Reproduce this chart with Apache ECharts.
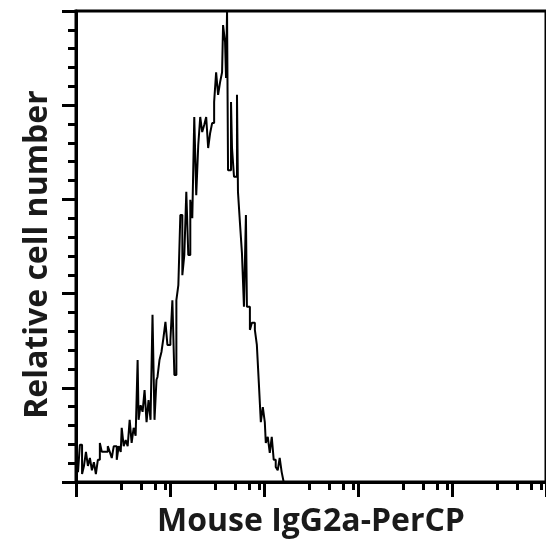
<!DOCTYPE html>
<html>
<head>
<meta charset="utf-8">
<script src="https://cdn.jsdelivr.net/npm/echarts@6/dist/echarts.min.js"></script>
<style>
  html, body { margin: 0; padding: 0; background: #fff; }
  #chart { width: 546px; height: 559px; }
</style>
</head>
<body>
<div id="chart"></div>
<script>
// histogram bins: left edge of each bin (fluorescence intensity) and relative count
const intensity = [
  1.00, 1.05, 1.10, 1.16, 1.215, 1.276, 1.339, 1.406, 1.476, 1.550,
  1.627, 1.708, 1.794, 1.883, 2.026, 2.179, 2.288, 2.402, 2.522, 2.713,
  2.849, 2.991, 3.064, 3.217, 3.378, 3.546, 3.723, 3.908, 4.104, 4.309,
  4.415, 4.524, 4.634, 4.866, 5.109, 5.363, 5.631, 5.912, 6.207, 6.516,
  6.842, 7.183, 7.360, 7.727, 8.112, 8.517, 8.942, 9.388, 10.10, 10.60,
  11.13, 11.69, 12.27, 12.88, 13.53, 14.20, 14.91, 15.65, 16.44, 17.26,
  18.12, 19.02, 19.97, 20.97, 22.01, 23.11, 24.26, 25.47, 26.74, 28.07,
  29.48, 30.95, 32.49, 34.11, 35.81, 36.69, 38.52, 39.47, 40.45, 41.44,
  44.58, 45.68, 47.96, 51.59, 52.86, 55.49, 58.27, 61.17, 64.22, 65.80,
  70.79, 74.32, 79.95, 83.94, 88.13, 92.52, 97.14, 102.0, 104.5, 109.7,
  115.2, 120.9, 126.9, 133.3, 139.9, 146.9, 154.2, 161.9
];
const counts = [
  4.7, 2.1, 7.9, 1.7, 3.4, 6.4, 3.4, 5.1, 2.5, 4.2,
  1.7, 4.7, 8.3, 6.4, 6.4, 7.6, 6.4, 5.1, 7.6, 4.7,
  7.6, 6.4, 11.5, 7.6, 8.9, 7.6, 13.2, 8.3, 11.5, 9.8,
  17.8, 25.9, 13.2, 16.3, 14.9, 19.5, 12.7, 17.4, 13.2, 35.5,
  13.2, 21.7, 22.3, 25.9, 27.6, 30.6, 34.0, 29.1, 30.1, 38.6,
  22.7, 38.6, 41.8, 56.7, 43.9, 48.2, 61.6, 48.2, 59.9, 56.0,
  77.5, 60.9, 71.5, 77.5, 74.3, 75.8, 77.5, 70.9, 74.1, 76.2,
  80.7, 87.0, 82.2, 84.9, 87.0, 97.0, 93.4, 85.8, 100, 66.2,
  80.7, 70.9, 64.8, 82.2, 61.6, 55.0, 48.6, 37.2, 56.7, 37.2,
  32.3, 33.8, 32.3, 29.1, 21.0, 12.7, 15.9, 12.7, 8.3, 9.6,
  6.2, 9.6, 4.7, 3.2, 2.5, 5.1, 2.1, 0
];
const majorTicks = [1, 10, 100, 1000, 10000, 100000];
const minorTicks = [3, 5, 7, 9, 30, 50, 70, 90, 300, 500, 700, 900,
  3000, 5000, 7000, 9000, 30000, 50000, 70000, 90000];
const xTitle = 'Mouse IgG2a-PerCP';
const yTitle = 'Relative cell number';

const histData = intensity.map((v, i) => [v, counts[i]]);
const titleFont = { fontFamily: 'Open Sans', fontWeight: 'bold', fontSize: 32, color: '#1a1a1a' };

const chart = echarts.init(document.getElementById('chart'), null, { renderer: 'canvas' });
chart.setOption({
  animation: false,
  grid: { left: 76, right: -3, top: 11, bottom: 77, show: true, borderColor: '#000', borderWidth: 3 },
  xAxis: [
    {
      type: 'log', logBase: 10, min: 1, max: 100000,
      name: xTitle, nameLocation: 'middle', nameGap: 24, nameTextStyle: titleFont,
      axisLine: { show: true, lineStyle: { color: '#000', width: 3 } },
      axisTick: { show: true, length: 15, customValues: majorTicks, lineStyle: { color: '#000', width: 3 } },
      axisLabel: { show: false },
      splitLine: { show: false },
      minorTick: { show: false }
    },
    {
      type: 'log', logBase: 10, min: 1, max: 100000, position: 'bottom',
      axisLine: { show: false },
      axisTick: { show: true, length: 8, customValues: minorTicks, lineStyle: { color: '#000', width: 3 } },
      axisLabel: { show: false },
      splitLine: { show: false }
    }
  ],
  yAxis: {
    type: 'value', min: 0, max: 100, interval: 20,
    name: yTitle, nameLocation: 'middle', nameGap: 22, nameRotate: 90,
    nameTextStyle: Object.assign({}, titleFont, { padding: [0, 16, 0, 0] }),
    axisLine: { show: true, lineStyle: { color: '#000', width: 3 } },
    axisTick: { show: true, length: 14, lineStyle: { color: '#000', width: 3 } },
    minorTick: { show: true, splitNumber: 5, length: 8, lineStyle: { color: '#000', width: 3 } },
    axisLabel: { show: false },
    splitLine: { show: false },
    minorSplitLine: { show: false }
  },
  series: [{
    type: 'line',
    xAxisIndex: 0,
    step: 'end',
    data: histData,
    showSymbol: false,
    lineStyle: { color: '#000', width: 2 },
    clip: true
  }]
});
</script>
</body>
</html>
